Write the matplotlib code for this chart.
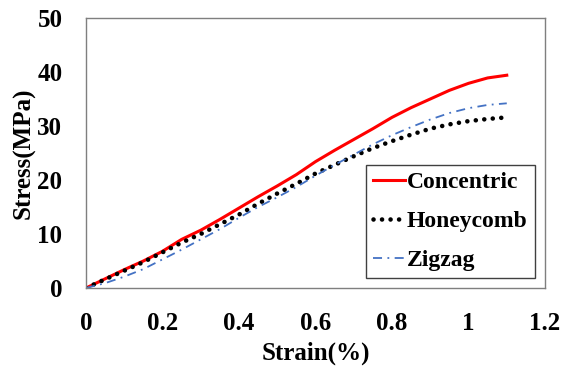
import numpy as np
import matplotlib
matplotlib.use('Agg')
import matplotlib.pyplot as plt

plt.rcParams['font.family'] = ['Liberation Serif', 'DejaVu Serif']
plt.rcParams['font.weight'] = 'bold'

strain = [0, 0.05, 0.1, 0.15, 0.2, 0.25, 0.3, 0.35, 0.4, 0.45, 0.5, 0.55,
          0.6, 0.65, 0.7, 0.75, 0.8, 0.85, 0.9, 0.95, 1.0, 1.05, 1.1]
concentric = [0, 1.7, 3.4, 5.0, 6.8, 9.0, 10.7, 12.7, 14.8, 16.9, 18.9, 21.0,
              23.4, 25.5, 27.5, 29.5, 31.6, 33.4, 35.0, 36.6, 37.9, 38.9, 39.4]
honeycomb = [0, 1.6, 3.2, 4.8, 6.6, 8.4, 10.0, 11.8, 13.6, 15.6, 17.5, 19.3,
             21.2, 22.8, 24.4, 25.9, 27.2, 28.4, 29.5, 30.3, 30.9, 31.3, 31.6]
zigzag = [0, 0.9, 2.1, 3.5, 5.3, 7.1, 9.0, 10.9, 13.0, 15.0, 16.8, 18.7,
          20.8, 22.8, 24.7, 26.6, 28.3, 29.8, 31.2, 32.4, 33.3, 33.9, 34.2]

xticks = [0, 0.2, 0.4, 0.6, 0.8, 1.0, 1.2]
xticklabels = ['0', '0.2', '0.4', '0.6', '0.8', '1', '1.2']
yticks = [0, 10, 20, 30, 40, 50]

fig = plt.figure(figsize=(5.71, 3.68), dpi=100)
ax = fig.add_axes([0.1506, 0.2174, 0.8039, 0.7337])

ax.plot(strain, concentric, color='#ff0000', lw=2.2, label='Concentric')
ax.plot(strain, honeycomb, color='black', lw=3.3, linestyle=(0, (0.01, 1.85)),
        dash_capstyle='round', label='Honeycomb')
ax.plot(strain, zigzag, color='#4472c4', lw=1.3, linestyle=(0, (5, 3, 1, 3)),
        label='Zigzag')

ax.set_xlim(0, 1.2)
ax.set_ylim(0, 50)
ax.set_xticks(xticks)
ax.set_xticklabels(xticklabels)
ax.set_yticks(yticks)
ax.tick_params(length=0, labelsize=18)
ax.tick_params(axis='x', pad=17)
ax.tick_params(axis='y', pad=17)
for lbl in ax.get_xticklabels() + ax.get_yticklabels():
    lbl.set_fontweight('bold')

for s in ax.spines.values():
    s.set_color('#7f7f7f')
    s.set_linewidth(1.0)

ax.set_xlabel('Strain(%)', fontsize=18, fontweight='bold', labelpad=5)
ax.set_ylabel('Stress(MPa)', fontsize=18, fontweight='bold', labelpad=1)

leg = ax.legend(loc='lower right', bbox_to_anchor=(0.978, 0.037),
                fontsize=17, handlelength=1.35, handletextpad=0.1,
                labelspacing=0.73, borderpad=0.3, borderaxespad=0,
                fancybox=False, framealpha=1, edgecolor='#404040')
leg.get_frame().set_linewidth(1.0)
for t in leg.get_texts():
    t.set_fontweight('bold')

fig.savefig('out.png', dpi=100)
